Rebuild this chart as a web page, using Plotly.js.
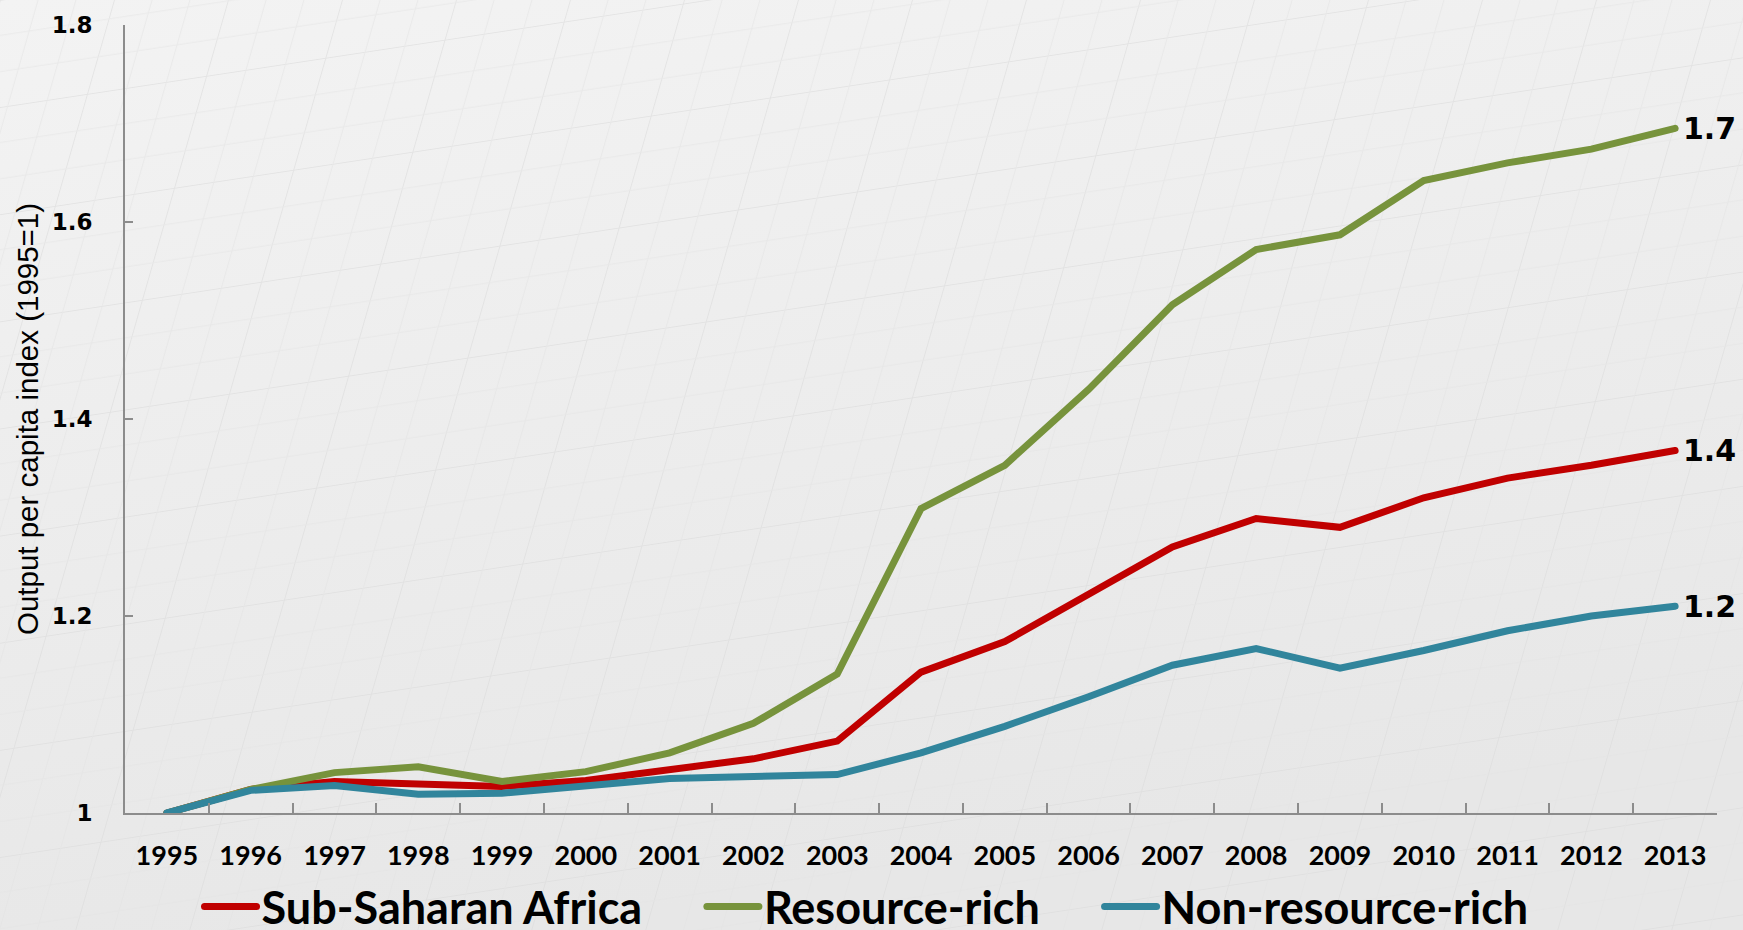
<!DOCTYPE html>
<html><head><meta charset="utf-8">
<script src="https://cdn.plot.ly/plotly-3.0.1.min.js"></script>
<style>
html,body{margin:0;padding:0;overflow:hidden;}
body{background-color:#ececec;}
#chart{width:1743px;height:930px;}
.js-line{stroke-linecap:round;}
</style>
</head><body><div id="chart"></div>
<script>
const years = ['1995','1996','1997','1998','1999','2000','2001','2002','2003','2004','2005','2006','2007','2008','2009','2010','2011','2012','2013'];
const subSaharanAfrica = [1.000,1.024,1.032,1.029,1.027,1.033,1.044,1.055,1.073,1.143,1.174,1.221,1.270,1.299,1.290,1.320,1.340,1.353,1.368];
const resourceRich     = [1.000,1.024,1.041,1.047,1.032,1.042,1.061,1.091,1.141,1.309,1.353,1.430,1.516,1.572,1.587,1.642,1.660,1.674,1.695];
const nonResourceRich  = [1.000,1.023,1.028,1.019,1.020,1.028,1.035,1.037,1.039,1.061,1.088,1.118,1.150,1.167,1.147,1.165,1.185,1.200,1.210];
const seriesNames = ['Sub-Saharan Africa','Resource-rich','Non-resource-rich'];
const seriesColors = ['#C00000','#77933C','#31859C'];
const yTickVals = [1,1.2,1.4,1.6,1.8];
const yTickText = ['1','1.2','1.4','1.6','1.8'];
const yTitle = 'Output per capita index (1995=1)';

// faint textured background (decoration only)
(function(){
  const svg = "<svg xmlns='http://www.w3.org/2000/svg' width='1743' height='930'>" +
    "<defs><linearGradient id='g' x1='0' y1='0' x2='0.3' y2='1'><stop offset='0' stop-color='#f3f3f3'/><stop offset='1' stop-color='#e7e7e7'/></linearGradient>" +
    "<pattern id='p' width='114' height='112' patternUnits='userSpaceOnUse' patternTransform='skewX(-16) skewY(-9)'>" +
    "<path d='M0 0V112M0 0H114' stroke='#dbdbdb' stroke-width='2' fill='none'/>" +
    "<path d='M38 0V112M76 0V112M0 37H114M0 75H114' stroke='#e3e3e3' stroke-width='1' fill='none'/></pattern></defs>" +
    "<rect width='1743' height='930' fill='url(#g)'/><rect width='1743' height='930' fill='url(#p)' opacity='0.6'/></svg>";
  document.body.style.backgroundImage = 'url("data:image/svg+xml,' + encodeURIComponent(svg) + '")';
})();

const seriesValues = [subSaharanAfrica, resourceRich, nonResourceRich];
const pad = '\u00a0'.repeat(5);
const traces = seriesValues.map((vals,i)=>({
  type:'scatter', mode:'lines', x:years, y:vals,
  name: seriesNames[i] + (i < seriesNames.length-1 ? pad : ''),
  line:{color:seriesColors[i], width:7}, hovertemplate: seriesNames[i] + ' %{x}: %{y:.3f}<extra></extra>'
}));

const lastIdx = years.length-1;
const annotations = seriesValues.map((vals,i)=>({
  x: lastIdx, y: vals[lastIdx], xref:'x', yref:'y',
  text: vals[lastIdx].toFixed(1), showarrow:false,
  xanchor:'left', yanchor:'middle', xshift:6,
  font:{family:'DejaVu Sans', size:30, weight:700, color:'#000'}
}));

const axisGray = '#8c8c8c';
const layout = {
  width:1743, height:930,
  paper_bgcolor:'rgba(0,0,0,0)', plot_bgcolor:'rgba(0,0,0,0)',
  margin:{l:124.5, r:25.5, t:24.5, b:117.4, pad:0, autoexpand:false},
  showlegend:true,
  legend:{orientation:'h', x:0.0468, xanchor:'left', xref:'paper', y:0.025, yanchor:'middle', yref:'container',
    font:{family:'Lato', size:45, weight:700, color:'#000'}, bgcolor:'rgba(0,0,0,0)', itemwidth:52},
  xaxis:{type:'category', range:[-0.5,18.5], tickson:'boundaries', ticks:'inside', ticklen:10,
    tickwidth:2, tickcolor:axisGray, showline:true, linecolor:axisGray, linewidth:2,
    showgrid:false, zeroline:false, ticklabelstandoff:18, automargin:false,
    tickfont:{family:'Lato', size:27, weight:700, color:'#000'}},
  yaxis:{range:[1,1.8], tickvals:yTickVals, ticktext:yTickText, ticks:'inside', ticklen:8,
    tickwidth:2, tickcolor:axisGray, showline:true, linecolor:axisGray, linewidth:2,
    showgrid:false, zeroline:false, ticklabelstandoff:26, automargin:false,
    tickfont:{family:'DejaVu Sans', size:23, weight:700, color:'#000'},
    title:{text:yTitle, standoff:4, font:{family:'Liberation Sans', size:29.5, color:'#000'}}},
  annotations:annotations
};
Plotly.newPlot('chart', traces, layout, {displayModeBar:false});
</script>
</body></html>
